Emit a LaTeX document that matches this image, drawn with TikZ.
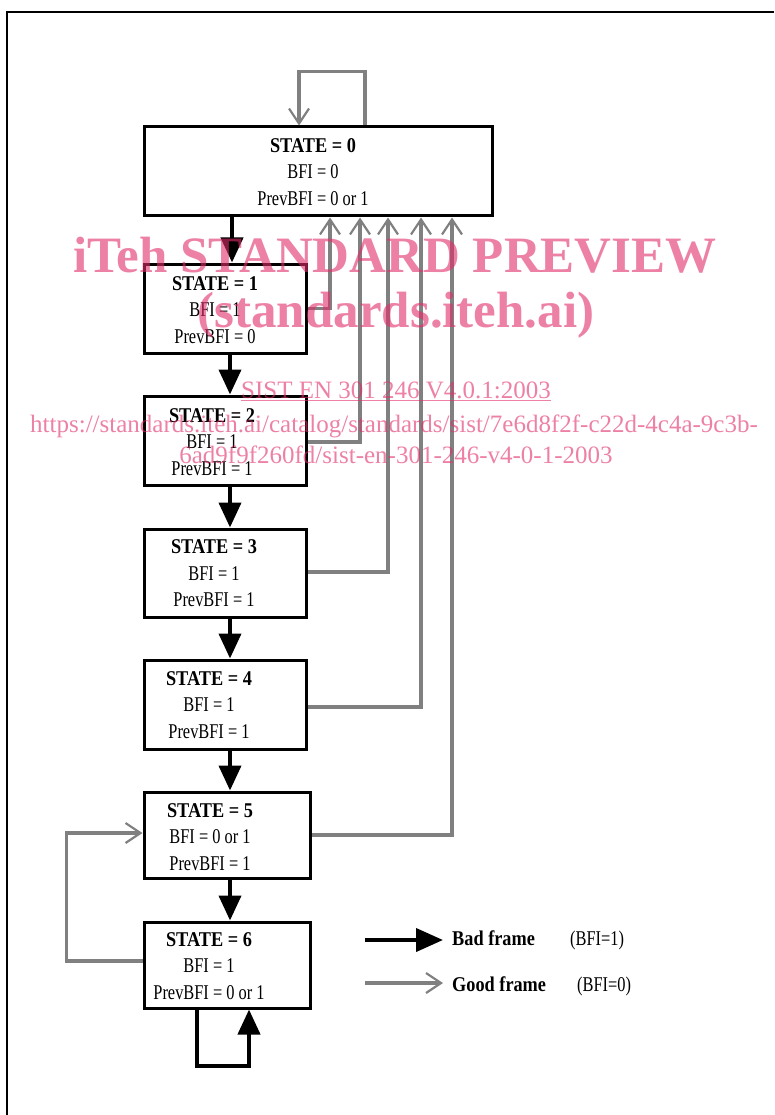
\documentclass[tikz,border=0pt]{standalone}
\usepackage{fontspec}
\setmainfont{Liberation Serif}[FakeStretch=0.78, BoldFeatures={FakeStretch=0.87}]
\newfontfamily\wmfont{Liberation Serif}
\usetikzlibrary{arrows.meta}
\definecolor{gline}{RGB}{128,128,128}
\definecolor{wmc}{RGB}{225,45,105}
\tikzset{
  box/.style={draw, line width=3pt, inner sep=0pt},
  txt/.style={align=center, inner sep=0pt, font=\fontsize{21}{26.5}\selectfont},
  good/.style={draw=gline, line width=3.4pt, -{Straight Barb[length=15pt,width=20pt,line width=2.2pt]}},
  bad/.style={line width=4pt, -{Triangle[length=25pt,width=22pt]}},
  leg/.style={anchor=base west, inner sep=0pt, font=\fontsize{21}{22}\selectfont},
  wm/.style={text=wmc, text opacity=0.6, inner sep=0pt, anchor=base}
}
\begin{document}
\begin{tikzpicture}[x=1pt,y=-1pt]
\useasboundingbox (0,0) rectangle (774,1115);
% frame
\coordinate (fa) at (6.5,1115);
\coordinate (fb) at (6.5,12);
\coordinate (fc) at (774,12);
\draw[line width=2pt] (fa) -- (fb) -- (fc);
% boxes
\node[box, minimum width=348pt, minimum height=89pt] (s0) at (318,171.5) {};
\node[box, minimum width=162pt, minimum height=89pt] (s1) at (225,308.5) {};
\node[box, minimum width=162pt, minimum height=89pt] (s2) at (225,440.5) {};
\node[box, minimum width=162pt, minimum height=88pt] (s3) at (225,573) {};
\node[box, minimum width=162pt, minimum height=89pt] (s4) at (225,704.5) {};
\node[box, minimum width=166pt, minimum height=86pt] (s5) at (227,835) {};
\node[box, minimum width=166pt, minimum height=86pt] (s6) at (227,965) {};
% texts
\node[txt] (t0) at (313,172) {\textbf{STATE = 0}\\BFI = 0\\PrevBFI = 0 or 1};
\node[txt] (t1) at (215,310) {\textbf{STATE = 1}\\BFI = 1\\PrevBFI = 0};
\node[txt] (t2) at (212,442) {\textbf{STATE = 2}\\BFI = 1\\PrevBFI = 1};
\node[txt] (t3) at (214,573.5) {\textbf{STATE = 3}\\BFI = 1\\PrevBFI = 1};
\node[txt] (t4) at (209,705) {\textbf{STATE = 4}\\BFI = 1\\PrevBFI = 1};
\node[txt] (t5) at (210,837) {\textbf{STATE = 5}\\BFI = 0 or 1\\PrevBFI = 1};
\node[txt] (t6) at (209,966) {\textbf{STATE = 6}\\BFI = 1\\PrevBFI = 0 or 1};
% bad frame arrows
\draw[bad] ([xshift=-86pt]s0.south) -- ([xshift=7pt]s1.north);
\draw[bad] ([xshift=5pt]s1.south) -- ([xshift=5pt]s2.north);
\draw[bad] ([xshift=5pt]s2.south) -- ([xshift=5pt]s3.north);
\draw[bad] ([xshift=5pt]s3.south) -- ([xshift=5pt]s4.north);
\draw[bad] ([xshift=5pt]s4.south) -- ([xshift=3pt]s5.north);
\draw[bad] ([xshift=3pt]s5.south) -- ([xshift=3pt]s6.north);
\draw[bad] ([xshift=-30pt]s6.south) -- ++(0,56) -- ++(52,0) -- ([xshift=22pt]s6.south);
% good frame arrows
\draw[good] ([xshift=47pt]s0.north) -- ++(0,-54) -- ++(-66,0) -- ([xshift=-19pt]s0.north);
\draw[good] (s1.east) -| ([xshift=12pt]s0.south);
\draw[good] ([yshift=-1.5pt]s2.east) -| ([xshift=42pt]s0.south);
\draw[good] ([yshift=1pt]s3.east) -| ([xshift=70pt]s0.south);
\draw[good] ([yshift=-2.5pt]s4.east) -| ([xshift=103pt]s0.south);
\draw[good] (s5.east) -| ([xshift=134pt]s0.south);
\draw[good] ([yshift=4pt]s6.west) -- ++(-76,0) |- ([yshift=2pt]s5.west);
% legend
\coordinate (lb1) at (365,940);
\coordinate (lb2) at (443,940);
\coordinate (lg1) at (365,983);
\coordinate (lg2) at (443,983);
\draw[line width=4pt, -{Triangle[length=27pt,width=23pt]}] (lb1) -- (lb2);
\draw[good] (lg1) -- (lg2);
\node[leg] (lbad) at (452,945) {\textbf{Bad frame}};
\node[leg] (lbadv) at (570,945) {(BFI=1)};
\node[leg] (lgood) at (452,991) {\textbf{Good frame}};
\node[leg] (lgoodv) at (577,991) {(BFI=0)};
% watermark
\node[wm, font=\wmfont\bfseries\fontsize{51}{51}\selectfont] (w1) at (395,272) {iTeh STANDARD PREVIEW};
\node[wm, font=\wmfont\bfseries\fontsize{51}{51}\selectfont] (w2) at (396,327) {(standards.iteh.ai)};
\node[wm, font=\wmfont\fontsize{25}{25}\selectfont] (w3) at (396,398) {\underline{SIST EN 301 246 V4.0.1:2003}};
\node[wm, font=\wmfont\fontsize{25}{25}\selectfont] (w4) at (394,432) {https://standards.iteh.ai/catalog/standards/sist/7e6d8f2f-c22d-4c4a-9c3b-};
\node[wm, font=\wmfont\fontsize{25}{25}\selectfont] (w5) at (396,463) {6ad9f9f260fd/sist-en-301-246-v4-0-1-2003};
\end{tikzpicture}
\end{document}
